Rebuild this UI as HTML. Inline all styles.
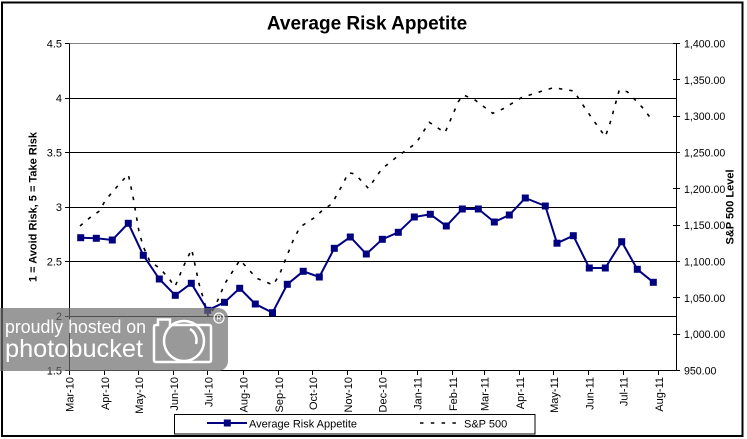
<!DOCTYPE html>
<html><head><meta charset="utf-8"><style>
html,body{margin:0;padding:0;background:#fff;}
svg{display:block;font-family:"Liberation Sans",Arial,sans-serif;}
</style></head><body>
<svg width="747" height="439" viewBox="0 0 747 439" xmlns="http://www.w3.org/2000/svg">
<rect width="747" height="439" fill="#fff"/>
<!-- outer border -->
<rect x="2" y="2.5" width="740.5" height="433.5" fill="none" stroke="#000" stroke-width="2"/>
<!-- title -->
<text x="367" y="29.5" font-size="19" font-weight="bold" text-anchor="middle">Average Risk Appetite</text>

<!-- gridlines -->
<g stroke="#000" stroke-width="1" shape-rendering="crispEdges">
<line x1="69" y1="98.5" x2="676" y2="98.5"/>
<line x1="69" y1="152.5" x2="676" y2="152.5"/>
<line x1="69" y1="207.5" x2="676" y2="207.5"/>
<line x1="69" y1="261.5" x2="676" y2="261.5"/>
<line x1="69" y1="316.5" x2="676" y2="316.5"/>
</g>
<line x1="69" y1="43.5" x2="676" y2="43.5" stroke="#808080" stroke-width="1" shape-rendering="crispEdges"/>
<!-- axes -->
<g stroke="#000" stroke-width="1" shape-rendering="crispEdges">
<line x1="69.5" y1="43.5" x2="69.5" y2="370.5"/>
<line x1="69" y1="370.5" x2="676" y2="370.5"/>
<line x1="676.5" y1="43.5" x2="676.5" y2="370.5"/>
<!-- left ticks -->
<line x1="65" y1="43.5" x2="69" y2="43.5"/>
<line x1="65" y1="98.5" x2="69" y2="98.5"/>
<line x1="65" y1="152.5" x2="69" y2="152.5"/>
<line x1="65" y1="207.5" x2="69" y2="207.5"/>
<line x1="65" y1="261.5" x2="69" y2="261.5"/>
<line x1="65" y1="316.5" x2="69" y2="316.5"/>
<line x1="65" y1="370.5" x2="69" y2="370.5"/>
<!-- right ticks -->
<line x1="673" y1="43.5" x2="680" y2="43.5"/>
<line x1="673" y1="79.5" x2="680" y2="79.5"/>
<line x1="673" y1="116.5" x2="680" y2="116.5"/>
<line x1="673" y1="152.5" x2="680" y2="152.5"/>
<line x1="673" y1="188.5" x2="680" y2="188.5"/>
<line x1="673" y1="225.5" x2="680" y2="225.5"/>
<line x1="673" y1="261.5" x2="680" y2="261.5"/>
<line x1="673" y1="297.5" x2="680" y2="297.5"/>
<line x1="673" y1="334.5" x2="680" y2="334.5"/>
<line x1="673" y1="370.5" x2="680" y2="370.5"/>
<!-- x ticks -->
<line x1="69.5" y1="370.5" x2="69.5" y2="375"/>
<line x1="104.5" y1="370.5" x2="104.5" y2="375"/>
<line x1="138.5" y1="370.5" x2="138.5" y2="375"/>
<line x1="173.5" y1="370.5" x2="173.5" y2="375"/>
<line x1="207.5" y1="370.5" x2="207.5" y2="375"/>
<line x1="243.5" y1="370.5" x2="243.5" y2="375"/>
<line x1="278.5" y1="370.5" x2="278.5" y2="375"/>
<line x1="312.5" y1="370.5" x2="312.5" y2="375"/>
<line x1="347.5" y1="370.5" x2="347.5" y2="375"/>
<line x1="381.5" y1="370.5" x2="381.5" y2="375"/>
<line x1="417.5" y1="370.5" x2="417.5" y2="375"/>
<line x1="452.5" y1="370.5" x2="452.5" y2="375"/>
<line x1="484.5" y1="370.5" x2="484.5" y2="375"/>
<line x1="519.5" y1="370.5" x2="519.5" y2="375"/>
<line x1="553.5" y1="370.5" x2="553.5" y2="375"/>
<line x1="588.5" y1="370.5" x2="588.5" y2="375"/>
<line x1="623.5" y1="370.5" x2="623.5" y2="375"/>
<line x1="658.5" y1="370.5" x2="658.5" y2="375"/>
</g>

<!-- left labels -->
<g font-size="11" text-anchor="end" fill="#000">
<text x="62" y="47.5">4.5</text>
<text x="62" y="102">4</text>
<text x="62" y="156.5">3.5</text>
<text x="62" y="211">3</text>
<text x="62" y="265.5">2.5</text>
<text x="62" y="320">2</text>
<text x="62" y="374.5">1.5</text>
</g>
<!-- right labels -->
<g font-size="10.6" fill="#000">
<text x="684" y="47.5">1,400.00</text>
<text x="684" y="83.8">1,350.00</text>
<text x="684" y="120.2">1,300.00</text>
<text x="684" y="156.5">1,250.00</text>
<text x="684" y="192.8">1,200.00</text>
<text x="684" y="229.2">1,150.00</text>
<text x="684" y="265.5">1,100.00</text>
<text x="684" y="301.8">1,050.00</text>
<text x="684" y="338.2">1,000.00</text>
<text x="684" y="374.5">950.00</text>
</g>
<!-- axis titles -->
<text transform="translate(36.7,207) rotate(-90)" font-size="11" font-weight="bold" text-anchor="middle">1 = Avoid Risk, 5 = Take Risk</text>
<text transform="translate(733.5,207) rotate(-90)" font-size="11" font-weight="bold" text-anchor="middle">S&amp;P 500 Level</text>

<!-- x labels -->
<g font-size="11" text-anchor="end">
<text transform="translate(73.5,377) rotate(-90)">Mar-10</text>
<text transform="translate(108.8,377) rotate(-90)">Apr-10</text>
<text transform="translate(142.9,377) rotate(-90)">May-10</text>
<text transform="translate(178.2,377) rotate(-90)">Jun-10</text>
<text transform="translate(212.3,377) rotate(-90)">Jul-10</text>
<text transform="translate(247.6,377) rotate(-90)">Aug-10</text>
<text transform="translate(282.8,377) rotate(-90)">Sep-10</text>
<text transform="translate(316.9,377) rotate(-90)">Oct-10</text>
<text transform="translate(352.2,377) rotate(-90)">Nov-10</text>
<text transform="translate(386.3,377) rotate(-90)">Dec-10</text>
<text transform="translate(421.6,377) rotate(-90)">Jan-11</text>
<text transform="translate(456.9,377) rotate(-90)">Feb-11</text>
<text transform="translate(488.7,377) rotate(-90)">Mar-11</text>
<text transform="translate(524,377) rotate(-90)">Apr-11</text>
<text transform="translate(558.1,377) rotate(-90)">May-11</text>
<text transform="translate(593.4,377) rotate(-90)">Jun-11</text>
<text transform="translate(627.5,377) rotate(-90)">Jul-11</text>
<text transform="translate(662.8,377) rotate(-90)">Aug-11</text>
</g>

<!-- S&P 500 dashed -->
<polyline fill="none" stroke="#000" stroke-width="1.6" stroke-dasharray="3.5 7" points="80,226 91,216.7 100,210.7 105,200.7 112.7,191.7 120,183.3 128.3,174.3 133.3,198.3 139,231.7 143.3,246.7 150,261.7 160,268.3 170,280 175,286.7 183.3,266.7 191.7,249.3 199.3,285 203.3,298.3 208.3,316.7 215,306.7 225,283.3 240,260 256.7,278.3 273.3,285 280,273.3 293.3,240 300,227 315,217.3 322.7,210 331.7,204 343.3,183.3 348.3,172.7 355,174 368.3,188.3 381.7,169 398.3,155.7 416,143.3 429.3,122.3 435,126 445,132.7 458.3,101.7 463.3,95 474,99.3 492.7,113.3 502.7,109 521.7,97.5 543.3,90.7 553.3,87.7 574,91 580,100.7 592.7,119.3 605.3,136.7 610,123.3 619.3,90 627.3,91.7 641.7,106.7 650,117.3"/>

<!-- Average Risk Appetite -->
<polyline fill="none" stroke="#000080" stroke-width="2" points="80.7,237.7 96.3,238.3 112.3,240 128.3,223.3 143.3,255.3 159.3,279 175.3,295.3 191.3,283.3 207.7,310.3 224.5,302.3 239.7,288.3 255.3,304 272.5,312.7 287.3,284.3 303.2,271.3 319.3,277 334.3,248.3 350.3,237 366.3,254 382.3,239.3 398.3,232.3 414.3,217 430.3,214.3 446.3,226 462.3,209 478.3,209 494.3,222 509.3,215 525.3,198 545.3,206 557,243.2 573.3,235.7 589.3,268 605.3,268 621.7,241.7 637.3,269.3 653.3,282.3"/>
<g fill="#000080">
<rect x="77.2" y="234.2" width="7" height="7"/><rect x="92.8" y="234.8" width="7" height="7"/><rect x="108.8" y="236.5" width="7" height="7"/><rect x="124.8" y="219.8" width="7" height="7"/><rect x="139.8" y="251.8" width="7" height="7"/><rect x="155.8" y="275.5" width="7" height="7"/><rect x="171.8" y="291.8" width="7" height="7"/><rect x="187.8" y="279.8" width="7" height="7"/><rect x="204.2" y="306.8" width="7" height="7"/><rect x="221" y="298.8" width="7" height="7"/><rect x="236.2" y="284.8" width="7" height="7"/><rect x="251.8" y="300.5" width="7" height="7"/><rect x="269" y="309.2" width="7" height="7"/><rect x="283.8" y="280.8" width="7" height="7"/><rect x="299.7" y="267.8" width="7" height="7"/><rect x="315.8" y="273.5" width="7" height="7"/><rect x="330.8" y="244.8" width="7" height="7"/><rect x="346.8" y="233.5" width="7" height="7"/><rect x="362.8" y="250.5" width="7" height="7"/><rect x="378.8" y="235.8" width="7" height="7"/><rect x="394.8" y="228.8" width="7" height="7"/><rect x="410.8" y="213.5" width="7" height="7"/><rect x="426.8" y="210.8" width="7" height="7"/><rect x="442.8" y="222.5" width="7" height="7"/><rect x="458.8" y="205.5" width="7" height="7"/><rect x="474.8" y="205.5" width="7" height="7"/><rect x="490.8" y="218.5" width="7" height="7"/><rect x="505.8" y="211.5" width="7" height="7"/><rect x="521.8" y="194.5" width="7" height="7"/><rect x="541.8" y="202.5" width="7" height="7"/><rect x="553.5" y="239.7" width="7" height="7"/><rect x="569.8" y="232.2" width="7" height="7"/><rect x="585.8" y="264.5" width="7" height="7"/><rect x="601.8" y="264.5" width="7" height="7"/><rect x="618.2" y="238.2" width="7" height="7"/><rect x="633.8" y="265.8" width="7" height="7"/><rect x="649.8" y="278.8" width="7" height="7"/>
</g>

<!-- legend -->
<rect x="174.5" y="414.5" width="360.5" height="19.5" fill="#fff" stroke="#000" stroke-width="1" shape-rendering="crispEdges"/>
<line x1="207" y1="423" x2="247" y2="423" stroke="#000080" stroke-width="2"/>
<rect x="223.8" y="419.5" width="7" height="7" fill="#000080"/>
<text x="249" y="427.5" font-size="11">Average Risk Appetite</text>
<line x1="420" y1="423" x2="462" y2="423" stroke="#000" stroke-width="1.6" stroke-dasharray="3.5 7.3"/>
<text x="464" y="427.5" font-size="11">S&amp;P 500</text>

<!-- watermark -->
<rect x="-12" y="308" width="240" height="63" rx="10" fill="rgba(110,110,110,0.7)"/>
<text x="5" y="333" font-size="18" fill="#fff" textLength="141" lengthAdjust="spacingAndGlyphs">proudly hosted on</text>
<text x="5" y="357" font-size="25" fill="#fff" textLength="138" lengthAdjust="spacingAndGlyphs">photobucket</text>
<g fill="none" stroke="#fff" stroke-width="2.5">
<path d="M155,325 L158,325 L158,319.5 L170,319.5 L170,325 L209,325 Q211,325 211,327 L211,360 Q211,362 209,362 L156,362 Q154,362 154,360 L154,327 Q154,325 156,325 Z"/>
<circle cx="184" cy="341" r="20"/>
<path d="M190,329 A13,13 0 0 1 196,344"/>
</g>
<circle cx="219" cy="318" r="5" fill="none" stroke="#fff" stroke-width="1.2"/>
<text x="219" y="320.5" font-size="7" fill="#fff" text-anchor="middle">R</text>
</svg>
</body></html>
